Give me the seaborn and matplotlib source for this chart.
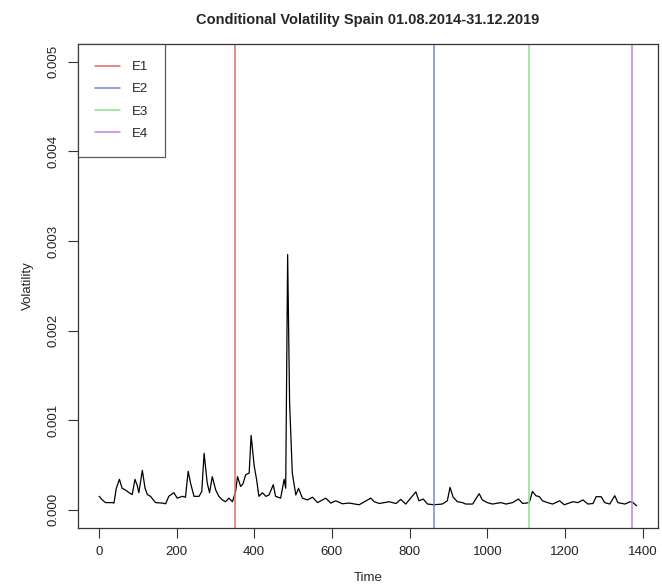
import matplotlib
matplotlib.use("Agg")
import matplotlib.pyplot as plt
import seaborn as sns
import pandas as pd

# Time index and conditional volatility (in units of 1e-3)
time = [1, 9, 17, 34, 39, 45, 53, 60, 69, 78, 86, 93, 99, 103, 112, 119, 125, 133,
        146, 163, 172, 180, 193, 202, 215, 223, 230, 236, 245, 258, 265, 271, 279,
        285, 292, 301, 309, 318, 326, 335, 344, 352, 357, 365, 371, 378, 387, 392,
        400, 406, 412, 421, 430, 438, 449, 455, 468, 477, 481, 486, 491, 498, 507,
        514, 524, 537, 550, 563, 584, 597, 610, 627, 644, 670, 700, 709, 722, 747,
        765, 777, 790, 816, 824, 835, 846, 863, 884, 897, 904, 912, 923, 936, 944,
        962, 979, 987, 1000, 1013, 1035, 1048, 1065, 1080, 1091, 1108, 1116, 1125,
        1134, 1142, 1155, 1168, 1186, 1198, 1220, 1233, 1246, 1259, 1272, 1280,
        1293, 1302, 1315, 1328, 1336, 1354, 1368, 1375, 1384]
vol_e3 = [0.15, 0.11, 0.08, 0.08, 0.075, 0.24, 0.34, 0.24, 0.22, 0.19, 0.17, 0.34,
          0.27, 0.19, 0.44, 0.24, 0.17, 0.15, 0.08, 0.075, 0.067, 0.15, 0.19, 0.13,
          0.15, 0.14, 0.43, 0.30, 0.15, 0.15, 0.205, 0.63, 0.30, 0.19, 0.37, 0.22,
          0.15, 0.11, 0.09, 0.13, 0.09, 0.205, 0.37, 0.26, 0.29, 0.39, 0.41, 0.83,
          0.485, 0.34, 0.15, 0.19, 0.15, 0.165, 0.28, 0.15, 0.13, 0.34, 0.24, 2.85,
          1.2, 0.41, 0.165, 0.24, 0.13, 0.11, 0.14, 0.08, 0.13, 0.075, 0.10, 0.067,
          0.075, 0.056, 0.13, 0.09, 0.07, 0.09, 0.07, 0.116, 0.064, 0.20, 0.10, 0.12,
          0.064, 0.056, 0.064, 0.10, 0.25, 0.14, 0.09, 0.08, 0.064, 0.064, 0.18, 0.11,
          0.08, 0.064, 0.08, 0.064, 0.08, 0.12, 0.07, 0.08, 0.205, 0.157, 0.146, 0.10,
          0.08, 0.064, 0.10, 0.056, 0.09, 0.08, 0.11, 0.064, 0.07, 0.146, 0.146, 0.08,
          0.064, 0.157, 0.08, 0.064, 0.09, 0.08, 0.045]

event_labels = ["E1", "E2", "E3", "E4"]
event_times = [350, 863, 1108, 1373]
event_colors = ["#df6b6b", "#7b82d6", "#8fdc8f", "#c77fdf"]

x_ticks = [0, 200, 400, 600, 800, 1000, 1200, 1400]
y_ticks = [0.000, 0.001, 0.002, 0.003, 0.004, 0.005]

df = pd.DataFrame({"Time": time, "Volatility": [v * 1e-3 for v in vol_e3]})

sns.set_style("white")
plt.rcParams["font.family"] = ["Liberation Sans", "DejaVu Sans"]

fig = plt.figure(figsize=(6.62, 5.86), dpi=100)
ax = fig.add_axes([0.1174, 0.0995, 0.8766, 0.8255])

sns.lineplot(data=df, x="Time", y="Volatility", ax=ax, color="black",
             linewidth=0.9, estimator=None)

for lab, t, c in zip(event_labels, event_times, event_colors):
    ax.axvline(t, color=c, linewidth=1.1, label=lab)

ax.set_xlim(-54.3, 1439.3)
ax.set_ylim(-0.0002, 0.0052)
ax.set_xticks(x_ticks)
ax.set_xticklabels([str(v) for v in x_ticks], fontsize=9.5, color="#222222")
ax.set_yticks(y_ticks)
ax.set_yticklabels([f"{v:.3f}" for v in y_ticks], fontsize=9.5, rotation=90,
                   va="center", color="#222222")
ax.tick_params(axis="both", direction="out", length=7, width=0.8, color="#333333",
               bottom=True, left=True, pad=6)
for s in ax.spines.values():
    s.set_visible(True)
    s.set_color("#333333")
    s.set_linewidth(0.9)

ax.set_xlabel("Time", fontsize=9.5, labelpad=10)
ax.set_ylabel("Volatility", fontsize=9.5, labelpad=10)
fig.suptitle("Conditional Volatility Spain 01.08.2014-31.12.2019",
             fontsize=10.5, fontweight="bold", x=0.556, y=0.977)

leg = ax.legend(loc="upper left", bbox_to_anchor=(0.0, 1.0), fontsize=9.5,
                frameon=True, fancybox=False, handlelength=1.9, handletextpad=0.9,
                labelspacing=0.75, borderpad=1.3, borderaxespad=0.0)
leg.get_frame().set_edgecolor("#333333")
leg.get_frame().set_linewidth(0.9)

fig.savefig("out.png", dpi=100, facecolor="white")
